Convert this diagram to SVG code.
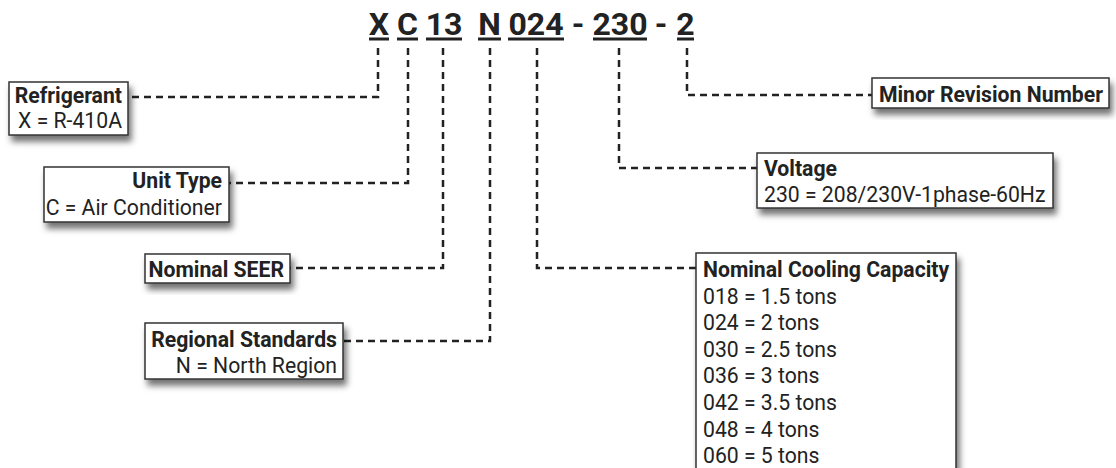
<svg xmlns="http://www.w3.org/2000/svg" width="1116" height="468" viewBox="0 0 1116 468">
<defs>
<filter id="sh" x="-20%" y="-30%" width="150%" height="170%">
<feDropShadow dx="3" dy="6" stdDeviation="3" flood-color="#000" flood-opacity="0.55"/>
</filter>
<style>
.box{fill:#fff;stroke:#333;stroke-width:1.5;filter:url(#sh)}
.t{font-family:Roboto,"Liberation Sans",sans-serif;font-size:21.2px;fill:#222}
.b{font-weight:bold}
.e{text-anchor:end}
.code{font-family:Roboto,"Liberation Sans",sans-serif;font-size:32px;font-weight:bold;fill:#222;text-anchor:middle}
.ul{fill:#222}
.c{fill:none;stroke:#222;stroke-width:2.5;stroke-dasharray:7 5}
</style>
</defs>
<rect width="1116" height="468" fill="#fff"/>
<g id="code">
<text class="code" x="379" y="35">X</text>
<text class="code" x="407.5" y="35">C</text>
<text class="code" x="444" y="35">13</text>
<text class="code" x="489.5" y="35">N</text>
<text class="code" x="536" y="35">024</text>
<text class="code" x="578" y="35">-</text>
<text class="code" x="620" y="35">230</text>
<text class="code" x="661" y="35">-</text>
<text class="code" x="685.5" y="35">2</text>
<rect class="ul" x="369" y="37.5" width="20" height="3"/>
<rect class="ul" x="397" y="37.5" width="21" height="3"/>
<rect class="ul" x="426" y="37.5" width="36" height="3"/>
<rect class="ul" x="478" y="37.5" width="23" height="3"/>
<rect class="ul" x="508" y="37.5" width="56" height="3"/>
<rect class="ul" x="593" y="37.5" width="54" height="3"/>
<rect class="ul" x="677" y="37.5" width="17" height="3"/>
</g>
<g id="connectors">
<path class="c" d="M378,48 V97 H128"/>
<path class="c" d="M408,48 V183 H229"/>
<path class="c" d="M443,48 V268 H290"/>
<path class="c" d="M490,48 V341 H343"/>
<path class="c" d="M537,48 V268 H696"/>
<path class="c" d="M619,48 V168 H757"/>
<path class="c" d="M687,48 V95 H872"/>
</g>
<g id="refrigerant">
<rect class="box" x="9" y="82" width="119" height="53"/>
<text class="t b e" x="122" y="103">Refrigerant</text>
<text class="t e" x="122" y="128">X = R-410A</text>
</g>
<g id="unit-type">
<rect class="box" x="44" y="167" width="185" height="55"/>
<text class="t b e" x="222" y="188">Unit Type</text>
<text class="t e" x="222" y="215">C = Air Conditioner</text>
</g>
<g id="seer">
<rect class="box" x="145" y="254" width="145" height="29"/>
<text class="t b e" x="284" y="277">Nominal SEER</text>
</g>
<g id="regional">
<rect class="box" x="145" y="323" width="198" height="56"/>
<text class="t b e" x="337" y="347">Regional Standards</text>
<text class="t e" x="337" y="373">N = North Region</text>
</g>
<g id="minor-revision">
<rect class="box" x="872" y="78" width="237" height="30"/>
<text class="t b e" x="1103" y="102">Minor Revision Number</text>
</g>
<g id="voltage">
<rect class="box" x="757" y="153" width="296" height="55"/>
<text class="t b" x="764" y="176">Voltage</text>
<text class="t" x="764" y="202">230 = 208/230V-1phase-60Hz</text>
</g>
<g id="cooling">
<rect class="box" x="696" y="253" width="260" height="230"/>
<text class="t b" x="703" y="277">Nominal Cooling Capacity</text>
<text class="t" x="703" y="303.6">018 = 1.5 tons</text>
<text class="t" x="703" y="330.2">024 = 2 tons</text>
<text class="t" x="703" y="356.8">030 = 2.5 tons</text>
<text class="t" x="703" y="383.4">036 = 3 tons</text>
<text class="t" x="703" y="410">042 = 3.5 tons</text>
<text class="t" x="703" y="436.6">048 = 4 tons</text>
<text class="t" x="703" y="463.2">060 = 5 tons</text>
</g>
</svg>
